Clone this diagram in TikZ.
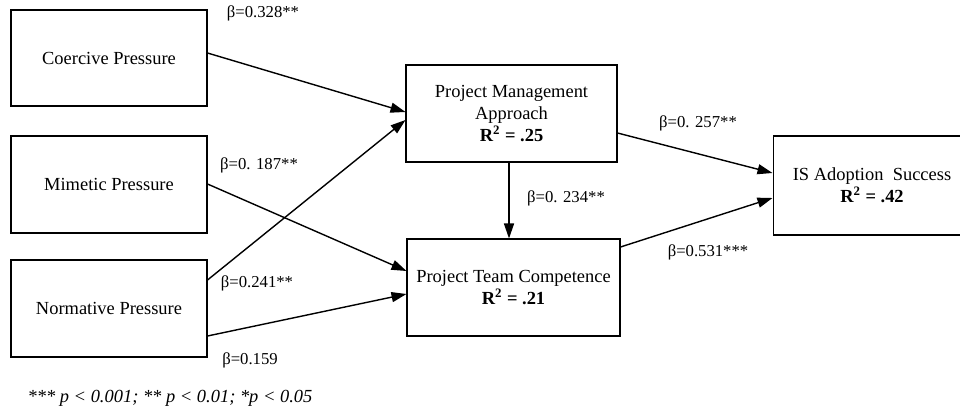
\documentclass[tikz,border=0pt]{standalone}
\usepackage{fontspec}
\setmainfont{Liberation Serif}
\usetikzlibrary{arrows.meta,calc}

\begin{document}
\begin{tikzpicture}[x=0.02cm, y=-0.02cm,
    construct/.style={draw, line width=0.6pt, align=center, inner sep=2pt, font=\fontsize{10.5}{12.6}\selectfont},
    effect/.style={line width=0.8pt, -{Triangle[length=0.3cm, width=0.2cm]}},
    coef/.style={font=\fontsize{9.5}{11}\selectfont, inner sep=0pt}]
    \useasboundingbox (0,0) rectangle (960,406);
    \clip (0,0) rectangle (960,406);

    % Three pressures
    \node[construct, minimum width=3.92cm, minimum height=1.92cm] (coercive) at (109,58) {Coercive Pressure};
    \node[construct, minimum width=3.92cm, minimum height=1.94cm] (mimetic) at (109,184.5) {Mimetic Pressure};
    \node[construct, minimum width=3.92cm, minimum height=1.94cm] (normative) at (109,308.5) {Normative Pressure};

    % Mediators
    \node[construct, minimum width=4.22cm, minimum height=1.94cm] (pma) at (511.5,113.5) {Project Management\\Approach\\\textbf{R\textsuperscript{2} = .25}};
    \node[construct, minimum width=4.26cm, minimum height=1.94cm] (ptc) at (513.5,287.5) {Project Team Competence\\\textbf{R\textsuperscript{2} = .21}};

    % Outcome
    \node[construct, minimum width=3.96cm, minimum height=1.98cm] (success) at (872,185.5) {IS Adoption\ \ Success\\\textbf{R\textsuperscript{2} = .42}};

    % Paths
    \draw[effect] ($(coercive.east)+(0,-5)$) -- ($(pma.west)+(0,-1.5)$);
    \draw[effect] ($(normative.east)+(0,-28.5)$) -- ($(pma.west)+(0,6.5)$);
    \draw[effect] ($(mimetic.east)+(0,-0.5)$) -- ($(ptc.west)+(0,-16.5)$);
    \draw[effect] ($(normative.east)+(0,27.5)$) -- ($(ptc.west)+(0,6.5)$);
    \draw[effect] ($(pma.east)+(0,19.5)$) -- ($(success.west)+(0,-12.5)$);
    \draw[effect] ($(ptc.east)+(0,-40.5)$) -- ($(success.west)+(0,12.5)$);
    \draw[effect] ($(pma.south)+(-2.5,0)$) -- ($(ptc.north)+(-4.5,0)$);

    % Coefficients
    \node[coef] (b1) at (263,13) {β=0.328**};
    \node[coef] (b2) at (259,165) {β=0. 187**};
    \node[coef] (b3) at (257,283) {β=0.241**};
    \node[coef] (b4) at (250,360) {β=0.159};
    \node[coef] (b5) at (566,198) {β=0. 234**};
    \node[coef] (b6) at (698,123) {β=0. 257**};
    \node[coef] (b7) at (708,252) {β=0.531***};

    % Note
    \node[font=\fontsize{10.5}{12.6}\selectfont\itshape, inner sep=0pt] (note) at (170,398) {*** p < 0.001; ** p < 0.01; *p < 0.05};
\end{tikzpicture}
\end{document}
